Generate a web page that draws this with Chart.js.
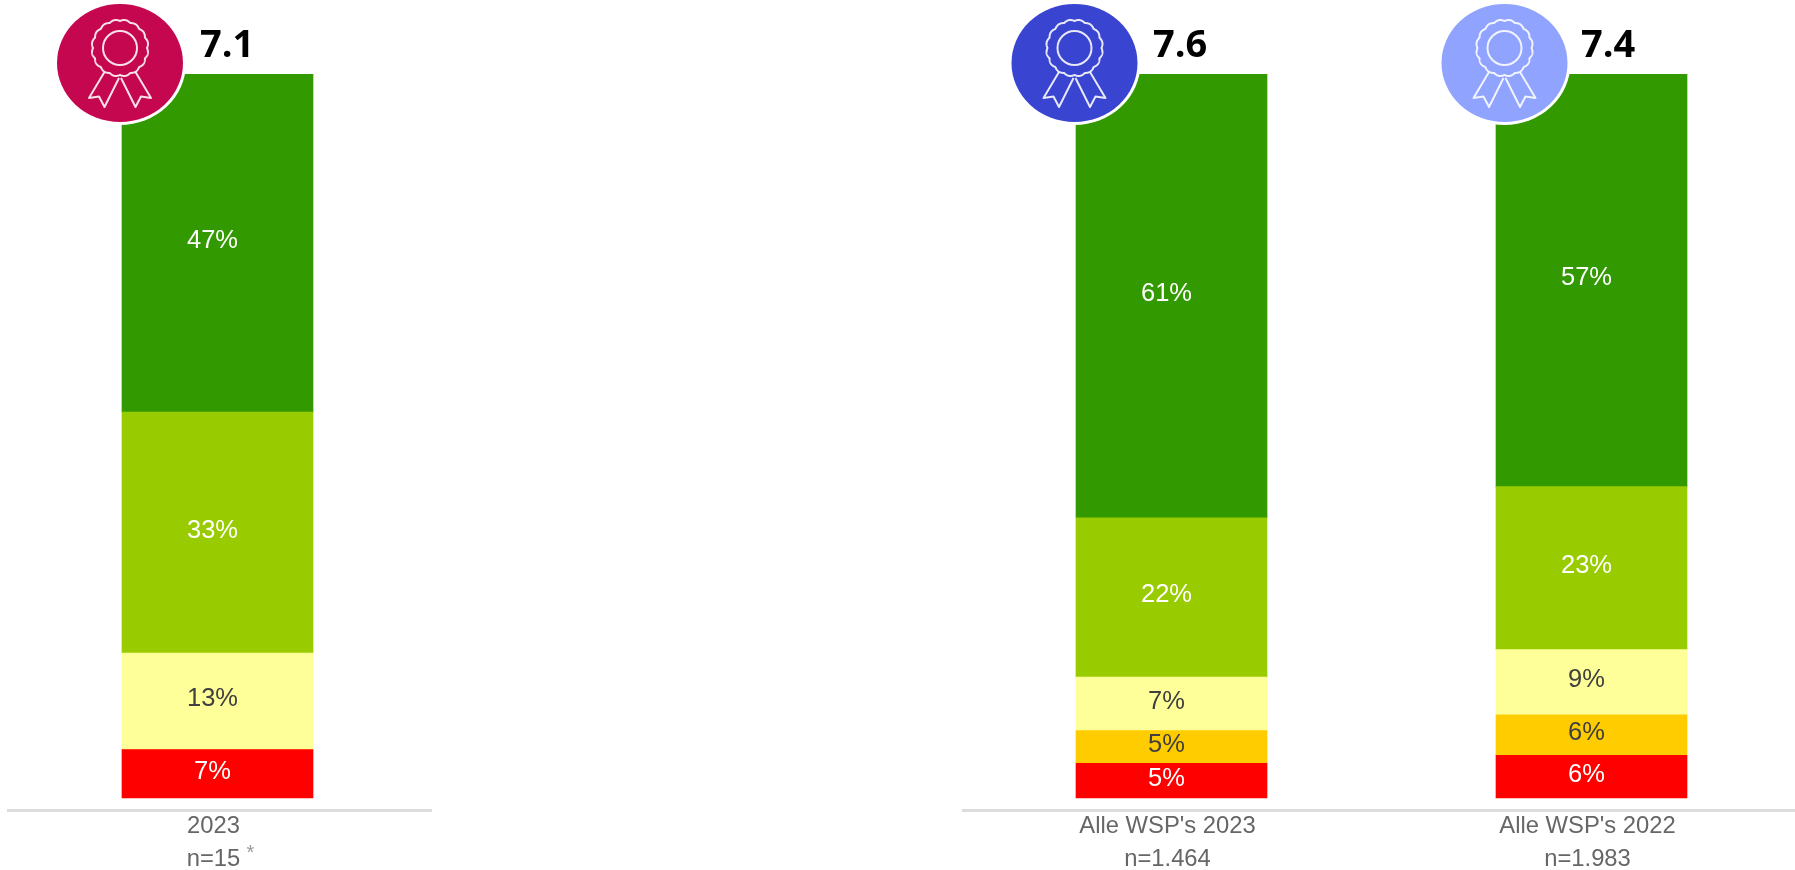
<!DOCTYPE html>
<html>
<head>
<meta charset="utf-8">
<title>Scores</title>
<script src="https://cdn.jsdelivr.net/npm/chart.js@4"></script>
<style>
  html, body { margin: 0; padding: 0; background: #fff; overflow: hidden; width: 1795px; height: 870px; }
  canvas { position: absolute; top: 0; }
  #leftChart { left: 7px; }
  #rightChart { left: 960px; }
</style>
</head>
<body>
<canvas id="leftChart" width="425" height="870"></canvas>
<canvas id="rightChart" width="843" height="870"></canvas>
<script>
  const leftCategories = [["2023", "n=15"]];
  const leftRed = [6.7];
  const leftOrange = [0];
  const leftYellow = [13.3];
  const leftLime = [33.3];
  const leftGreen = [46.7];
  const leftScores = ["7.1"];

  const rightCategories = [["Alle WSP's 2023", "n=1.464"], ["Alle WSP's 2022", "n=1.983"]];
  const rightRed = [4.8, 5.9];
  const rightOrange = [4.5, 5.6];
  const rightYellow = [7.4, 9];
  const rightLime = [22, 22.5];
  const rightGreen = [61.3, 57];
  const rightScores = ["7.6", "7.4"];

  const sans = "'Liberation Sans', Arial, sans-serif";

  function drawRibbon(ctx, cx, cy, rx, ry, color) {
    ctx.save();
    ctx.fillStyle = "#fff";
    ctx.beginPath();
    ctx.ellipse(cx, cy, rx + 3, ry + 3, 0, 0, Math.PI * 2);
    ctx.fill();
    ctx.fillStyle = color;
    ctx.beginPath();
    ctx.ellipse(cx, cy, rx, ry, 0, 0, Math.PI * 2);
    ctx.fill();

    ctx.strokeStyle = "rgba(255,255,255,0.88)";
    ctx.lineWidth = 2;
    ctx.lineJoin = "round";
    const rosetteY = cy - 15;
    ctx.beginPath();
    for (let a = 0; a <= 720; a++) {
      const t = (a / 720) * Math.PI * 2;
      const r = 27 + 1.4 * Math.abs(Math.sin(t * 8));
      const x = cx + r * Math.cos(t);
      const y = rosetteY + r * Math.sin(t);
      if (a === 0) ctx.moveTo(x, y);
      else ctx.lineTo(x, y);
    }
    ctx.closePath();
    ctx.stroke();
    ctx.beginPath();
    ctx.arc(cx, rosetteY, 17, 0, Math.PI * 2);
    ctx.stroke();

    // the two tails under the rosette
    [-1, 1].forEach((side) => {
      ctx.beginPath();
      ctx.moveTo(cx + side * 15.5, cy + 9);
      ctx.lineTo(cx + side * 31, cy + 35);
      ctx.lineTo(cx + side * 21, cy + 33.5);
      ctx.lineTo(cx + side * 15.5, cy + 44);
      ctx.lineTo(cx + side * 1, cy + 15);
      ctx.stroke();
    });
    ctx.restore();
  }

  function makeChart(id, opts) {
    const paintPlugin = {
      id: "paint",
      afterDatasetsDraw(chart) {
        const ctx = chart.ctx;
        const xScale = chart.scales.x;

        // base line under the bars
        ctx.save();
        ctx.strokeStyle = "#dddddd";
        ctx.lineWidth = 3;
        ctx.beginPath();
        ctx.moveTo(opts.lineFrom, chart.chartArea.bottom + 0.5);
        ctx.lineTo(opts.lineTo, chart.chartArea.bottom + 0.5);
        ctx.stroke();

        // percentage labels
        ctx.font = "25.5px " + sans;
        ctx.textAlign = "center";
        ctx.textBaseline = "middle";
        chart.data.datasets.forEach((ds, i) => {
          chart.getDatasetMeta(i).data.forEach((bar, j) => {
            if (!ds.data[j]) return;
            ctx.fillStyle = ds.labelColor;
            ctx.fillText(Math.round(ds.data[j]) + "%", bar.x - 5, bar.y + (bar.base - bar.y) / 2 - 2);
          });
        });

        // score badges
        opts.scores.forEach((score, j) => {
          const center = xScale.getPixelForValue(j);
          drawRibbon(ctx, center + opts.badgeShift[j], 63, 63, 59, opts.badgeColors[j]);
          ctx.font = "700 38px 'Open Sans', sans-serif";
          ctx.fillStyle = "#000";
          ctx.textAlign = "left";
          ctx.textBaseline = "middle";
          ctx.fillText(score, center + opts.scoreShift[j], 46);
        });

        if (opts.footnote) {
          ctx.font = "20px " + sans;
          ctx.fillStyle = "#999999";
          ctx.textAlign = "center";
          ctx.textBaseline = "middle";
          ctx.fillText("*", xScale.getPixelForValue(0) + opts.footnote, 853);
        }
        ctx.restore();
      },
    };

    return new Chart(document.getElementById(id).getContext("2d"), {
      type: "bar",
      data: {
        labels: opts.categories,
        datasets: [
          { data: opts.red, backgroundColor: "#ff0000", labelColor: "#ffffff" },
          { data: opts.orange, backgroundColor: "#ffcc00", labelColor: "#404040" },
          { data: opts.yellow, backgroundColor: "#ffff99", labelColor: "#404040" },
          { data: opts.lime, backgroundColor: "#99cc00", labelColor: "#ffffff" },
          { data: opts.green, backgroundColor: "#339900", labelColor: "#ffffff" },
        ],
      },
      options: {
        responsive: false,
        animation: false,
        barThickness: 191,
        layout: { padding: opts.padding },
        plugins: { legend: { display: false }, tooltip: { enabled: false } },
        scales: {
          x: {
            stacked: true,
            grid: { display: false },
            border: { display: false },
            afterFit(scale) {
              scale.height = 60;
            },
            ticks: {
              color: "#666666",
              font: { family: sans, size: 23.8, lineHeight: 1.385 },
              padding: -8,
              labelOffset: -4,
              maxRotation: 0,
              autoSkip: false,
            },
          },
          y: { stacked: true, display: false, min: -1.66, max: 100 },
        },
      },
      plugins: [paintPlugin],
    });
  }

  makeChart("leftChart", {
    categories: leftCategories,
    red: leftRed,
    orange: leftOrange,
    yellow: leftYellow,
    lime: leftLime,
    green: leftGreen,
    scores: leftScores,
    badgeColors: ["#c5074f"],
    badgeShift: [-97.5],
    scoreShift: [-17.5],
    padding: { top: 74, left: 0, right: 4, bottom: 0 },
    lineFrom: 0,
    lineTo: 425,
    footnote: 33,
  });

  makeChart("rightChart", {
    categories: rightCategories,
    red: rightRed,
    orange: rightOrange,
    yellow: rightYellow,
    lime: rightLime,
    green: rightGreen,
    scores: rightScores,
    badgeColors: ["#3944d0", "#8fa3ff"],
    badgeShift: [-97, -87],
    scoreShift: [-18.5, -10.5],
    padding: { top: 74, left: 1.5, right: 1.5, bottom: 0 },
    lineFrom: 2,
    lineTo: 843,
  });
</script>
</body>
</html>
